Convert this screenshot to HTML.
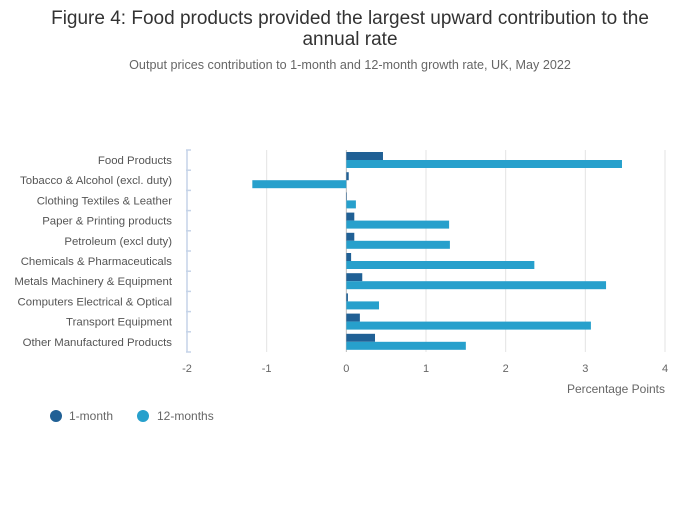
<!DOCTYPE html>
<html><head><meta charset="utf-8"><style>
body{margin:0;background:#fff;font-family:"Liberation Sans",sans-serif;}
svg text{font-family:"Liberation Sans",sans-serif;}
</style></head><body>
<svg id="chart" width="700" height="502" xmlns="http://www.w3.org/2000/svg">
<text x="350" y="24" text-anchor="middle" font-size="19" fill="#333">Figure 4: Food products provided the largest upward contribution to the</text>
<text x="350" y="45" text-anchor="middle" font-size="19" fill="#333">annual rate</text>
<text x="350" y="69" text-anchor="middle" font-size="12.6" fill="#666">Output prices contribution to 1-month and 12-month growth rate, UK, May 2022</text>
<g id="grid"></g><g id="bars"></g><g id="axes"></g>
<text x="665" y="393" text-anchor="end" font-size="12" fill="#666">Percentage Points</text>
<g>
<circle cx="56" cy="416" r="6" fill="#206095"/>
<text x="69" y="420" font-size="12" fill="#666">1-month</text>
<circle cx="143" cy="416" r="6" fill="#27a0cc"/>
<text x="157" y="420" font-size="12" fill="#666">12-months</text>
</g>
</svg>
<script>
const categories=["Food Products","Tobacco & Alcohol (excl. duty)","Clothing Textiles & Leather","Paper & Printing products","Petroleum (excl duty)","Chemicals & Pharmaceuticals","Metals Machinery & Equipment","Computers Electrical & Optical","Transport Equipment","Other Manufactured Products"];
const oneMonth=[0.46,0.03,0.0,0.1,0.1,0.06,0.2,0.02,0.17,0.36];
const twelveMonths=[3.46,-1.18,0.12,1.29,1.30,2.36,3.26,0.41,3.07,1.5];
const xTicks=[-2,-1,0,1,2,3,4];
const NS="http://www.w3.org/2000/svg";
const x0=187,x1=665,plotTop=150,band=20.2;
function xs(v){return x0+(v+2)/6*(x1-x0);}
function ys(i){return plotTop+i*band;}
function mk(tag,attrs,parent){const e=document.createElementNS(NS,tag);for(const k in attrs)e.setAttribute(k,attrs[k]);document.getElementById(parent).appendChild(e);return e;}
const plotBottom=ys(categories.length);
xTicks.forEach(t=>{
 if(t!==-2){const l=mk('line',{x1:xs(t),x2:xs(t),y1:plotTop,y2:plotBottom,stroke:t===0?'#bbb':'#e3e3e3','stroke-width':1},'grid');
 
 }
 const tx=mk('text',{x:xs(t),y:plotBottom+20,'text-anchor':'middle','font-size':11,fill:'#666'},'axes');
 tx.textContent=t;
 
 
});
const ax=mk('line',{x1:x0,x2:x0,y1:plotTop,y2:plotBottom,stroke:'#c5d3e8','stroke-width':1.5},'axes');


for(let i=0;i<=categories.length;i++){const tk=mk('line',{x1:x0-1,x2:x0+4,y1:ys(i),y2:ys(i),stroke:'#c5d3e8','stroke-width':1.5},'axes');
 
 }
categories.forEach((c,i)=>{
 const y=ys(i);
 const lb=mk('text',{x:172,y:y+14,'text-anchor':'end','font-size':11.4,fill:'#555'},'axes');
 lb.textContent=c;
 
 
 const a=oneMonth[i];
 const r1=mk('rect',{x:Math.min(xs(0),xs(a)),y:y+2,width:Math.max(Math.abs(xs(a)-xs(0)),0.5),height:8,fill:'#206095'},'bars');
 
 
 const b=twelveMonths[i];
 const r2=mk('rect',{x:Math.min(xs(0),xs(b)),y:y+10,width:Math.abs(xs(b)-xs(0)),height:8,fill:'#27a0cc'},'bars');
 
 
});
</script>
</body></html>
